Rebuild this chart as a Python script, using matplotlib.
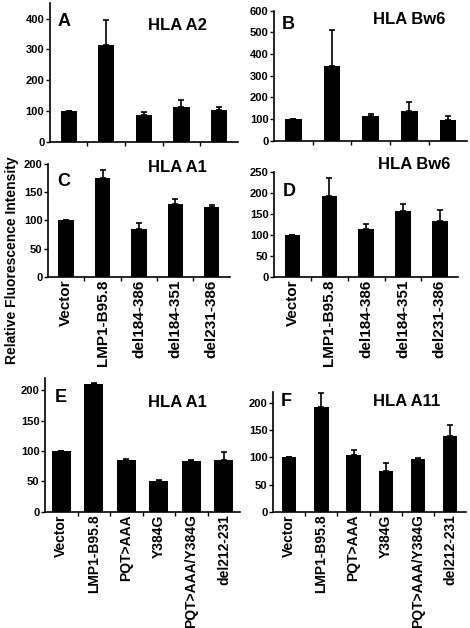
import numpy as np
import matplotlib
matplotlib.use("Agg")
import matplotlib.pyplot as plt
from matplotlib.ticker import FixedLocator, MultipleLocator

plt.rcParams["font.family"] = ["Liberation Sans", "DejaVu Sans"]
plt.rcParams["font.weight"] = "bold"

# data
cats_del = ["Vector", "LMP1-B95.8", "del184-386", "del184-351", "del231-386"]
cats_mut = ["Vector", "LMP1-B95.8", "PQT>AAA", "Y384G", "PQT>AAA/Y384G", "del212-231"]

a_vals = [100, 315, 88, 112, 105]
a_err = [0, 80, 9, 23, 7]
b_vals = [100, 345, 115, 137, 95]
b_err = [0, 165, 10, 43, 17]
c_vals = [100, 175, 84, 129, 123]
c_err = [0, 15, 11, 9, 5]
d_vals = [100, 192, 114, 157, 133]
d_err = [0, 45, 13, 16, 27]
e_vals = [100, 210, 86, 51, 83, 86]
e_err = [0, 2, 1, 2, 2, 12]
f_vals = [100, 192, 105, 74, 97, 139]
f_err = [0, 26, 8, 16, 2, 21]

fig = plt.figure(figsize=(4.70, 6.28), dpi=100)

panels = [
    # rect, letter, title, cats, vals, err, ylim, ystep, width, label size, letter pos, title pos
    ([0.106, 0.774, 0.400, 0.221], "A", "HLA A2", cats_del, a_vals, a_err, 450, 100, 0.43, 0, (0.04, 0.93), (0.68, 0.84)),
    ([0.583, 0.776, 0.411, 0.207], "B", "HLA Bw6", cats_del, b_vals, b_err, 600, 100, 0.43, 0, (0.04, 0.96), (0.70, 0.93)),
    ([0.102, 0.559, 0.387, 0.180], "C", "HLA A1", cats_del, c_vals, c_err, 200, 50, 0.42, 11, (0.05, 0.92), (0.71, 0.97)),
    ([0.583, 0.559, 0.392, 0.167], "D", "HLA Bw6", cats_del, d_vals, d_err, 250, 50, 0.42, 11, (0.05, 0.90), (0.76, 1.07)),
    ([0.096, 0.185, 0.415, 0.213], "E", "HLA A1", cats_mut, e_vals, e_err, 220, 50, 0.58, 10, (0.05, 0.92), (0.68, 0.82)),
    ([0.581, 0.185, 0.411, 0.191], "F", "HLA A11", cats_mut, f_vals, f_err, 220, 50, 0.45, 10, (0.04, 0.99), (0.69, 0.92)),
]

for rect, letter, title, cats, vals, err, ytop, ystep, width, lsize, lpos, tpos in panels:
    ax = fig.add_axes(rect)
    x = np.arange(len(cats))
    ax.bar(x, vals, width=width, color="black",
           yerr=[np.zeros(len(err)), err], capsize=2,
           error_kw=dict(ecolor="black", elinewidth=1.2, capthick=1.2))
    ax.set_xlim(-0.5, len(cats) - 0.5)
    ax.set_ylim(0, ytop)
    ax.yaxis.set_major_locator(MultipleLocator(ystep))
    ax.spines["top"].set_visible(False)
    ax.spines["right"].set_visible(False)
    ax.spines["left"].set_linewidth(1.2)
    ax.spines["bottom"].set_linewidth(1.2)
    ax.tick_params(axis="y", labelsize=8, length=3, width=1, pad=1)
    ax.set_xticks(x)
    if lsize:
        ax.set_xticklabels(cats, rotation=90, fontsize=lsize, fontweight="bold")
    else:
        ax.set_xticklabels([])
    ax.tick_params(axis="x", which="major", length=0, pad=2)
    ax.xaxis.set_minor_locator(FixedLocator(np.arange(0.5, len(cats) - 0.5, 1)))
    ax.tick_params(axis="x", which="minor", length=3, width=1)
    for lab in ax.get_yticklabels():
        lab.set_fontweight("bold")
    ax.text(lpos[0], lpos[1], letter, transform=ax.transAxes, fontsize=13,
            fontweight="bold", va="top", ha="left")
    ax.text(tpos[0], tpos[1], title, transform=ax.transAxes, fontsize=12,
            fontweight="bold", va="center", ha="center")

fig.text(0.026, 0.586, "Relative Fluorescence Intensity", rotation=90,
         fontsize=10, fontweight="bold", va="center", ha="center")

fig.savefig("out.png", dpi=100)
